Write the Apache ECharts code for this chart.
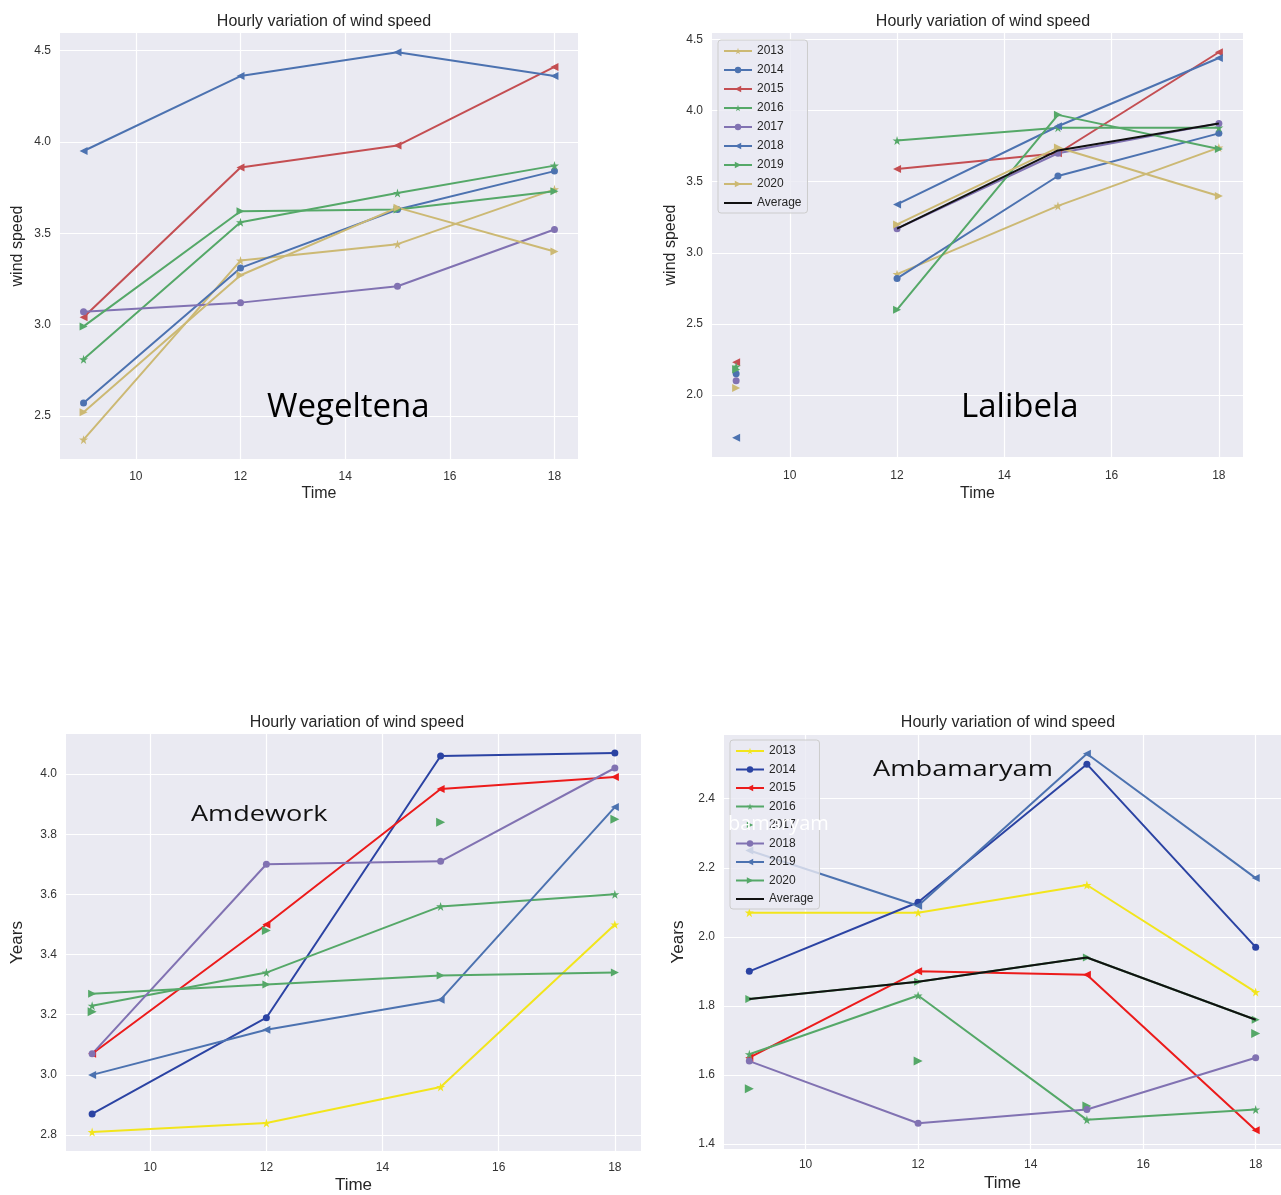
<!DOCTYPE html>
<html>
<head>
<meta charset="utf-8">
<script src="https://cdn.jsdelivr.net/npm/echarts@6/dist/echarts.min.js"></script>
<style>
  html, body { margin: 0; padding: 0; background: #fff; }
  #main { width: 1281px; height: 1195px; }
</style>
</head>
<body>
<div id="main"></div>
<script>
// hours of the day on the x axis
var hours = [9, 12, 15, 18]
var years = ['2013', '2014', '2015', '2016', '2017', '2018', '2019', '2020']

// Wegeltena (top left)
var weg2013 = [2.37, 3.35, 3.44, 3.74]
var weg2014 = [2.57, 3.31, 3.63, 3.84]
var weg2015 = [3.04, 3.86, 3.98, 4.41]
var weg2016 = [2.81, 3.56, 3.72, 3.87]
var weg2017 = [3.07, 3.12, 3.21, 3.52]
var weg2018 = [3.95, 4.36, 4.49, 4.36]
var weg2019 = [2.99, 3.62, 3.63, 3.73]
var weg2020 = [2.52, 3.27, 3.64, 3.40]

// Lalibela (top right) - 9h values are not joined to the rest
var lal2013 = [null, 2.85, 3.33, 3.74]
var lal2014 = [2.15, 2.82, 3.54, 3.84]
var lal2015 = [2.23, 3.59, 3.70, 4.41]
var lal2016 = [2.20, 3.79, 3.88, 3.88]
var lal2017 = [2.10, 3.17, 3.70, 3.91]
var lal2018 = [1.70, 3.34, 3.89, 4.37]
var lal2019 = [2.18, 2.60, 3.97, 3.73]
var lal2020 = [2.05, 3.20, 3.74, 3.40]
var lalAvg = [null, 3.17, 3.72, 3.91]

// Amdework (bottom left)
var amd2013 = [2.81, 2.84, 2.96, 3.50]
var amd2014 = [2.87, 3.19, 4.06, 4.07]
var amd2015 = [3.07, 3.50, 3.95, 3.99]
var amd2016 = [3.23, 3.34, 3.56, 3.60]
var amd2017 = [3.21, 3.48, 3.84, 3.85]
var amd2018 = [3.07, 3.70, 3.71, 4.02]
var amd2019 = [3.00, 3.15, 3.25, 3.89]
var amd2020 = [3.27, 3.30, 3.33, 3.34]

// Ambamaryam (bottom right)
var amb2013 = [2.07, 2.07, 2.15, 1.84]
var amb2014 = [1.90, 2.10, 2.50, 1.97]
var amb2015 = [1.65, 1.90, 1.89, 1.44]
var amb2016 = [1.66, 1.83, 1.47, 1.50]
var amb2017 = [1.56, 1.64, 1.51, 1.72]
var amb2018 = [1.64, 1.46, 1.50, 1.65]
var amb2019 = [2.25, 2.09, 2.53, 2.17]
var amb2020 = [1.82, 1.87, 1.94, 1.76]
var ambAvg = [1.82, 1.87, 1.94, 1.76]

var STAR = 'path://M50,0L61,35L98,35L68,57L79,91L50,70L21,91L32,57L2,35L39,35Z'
var LEFT = 'path://M0,5L10,0L10,10Z'
var RIGHT = 'path://M10,5L0,0L0,10Z'

// seaborn-ish colours
var tan = '#CCB974', blue = '#4C72B0', red = '#C44E52', green = '#55A868', purple = '#8172B2'
var yellow = '#F2E51C', navy = '#2B43A3', pureRed = '#EC1B1B'

// marker + colour per year, two palettes (top row, bottom row)
var topStyle = [
  [STAR, tan], ['circle', blue], [LEFT, red], [STAR, green],
  ['circle', purple], [LEFT, blue], [RIGHT, green], [RIGHT, tan]
]
var botStyle = [
  [STAR, yellow], ['circle', navy], [LEFT, pureRed], [STAR, green],
  [RIGHT, green], ['circle', purple], [LEFT, blue], [RIGHT, green]
]

function toData(vals, breakAfterFirst) {
  var out = []
  for (var i = 0; i < hours.length; i++) {
    out.push([hours[i], vals[i] == null ? '-' : vals[i]])
    if (breakAfterFirst && i === 0) out.push([10.5, '-'])
  }
  return out
}

function mk(prefix, label, vals, idx, style, opts) {
  opts = opts || {}
  var sym = style ? style[0] : 'none'
  var col = style ? style[1] : '#111'
  var size = sym === 'circle' ? 7 : (sym === STAR ? 9 : 8)
  return {
    name: prefix + '|' + label,
    type: 'line',
    xAxisIndex: idx,
    yAxisIndex: idx,
    data: toData(vals, opts.gap),
    symbol: sym,
    symbolSize: opts.markerOnly ? 9 : size,
    showSymbol: sym !== 'none',
    color: col,
    itemStyle: { color: col },
    lineStyle: { color: col, width: opts.markerOnly ? 0 : 2, opacity: opts.markerOnly ? 0 : 1 },
    emphasis: { disabled: true },
    animation: false,
    z: opts.z || 2
  }
}

var series = []
var wegVals = [weg2013, weg2014, weg2015, weg2016, weg2017, weg2018, weg2019, weg2020]
var lalVals = [lal2013, lal2014, lal2015, lal2016, lal2017, lal2018, lal2019, lal2020]
var amdVals = [amd2013, amd2014, amd2015, amd2016, amd2017, amd2018, amd2019, amd2020]
var ambVals = [amb2013, amb2014, amb2015, amb2016, amb2017, amb2018, amb2019, amb2020]

years.forEach(function (y, i) {
  series.push(mk('W', y, wegVals[i], 0, topStyle[i]))
})
years.forEach(function (y, i) {
  series.push(mk('L', y, lalVals[i], 1, topStyle[i], { gap: true }))
})
series.push(mk('L', 'Average', lalAvg, 1, null, { z: 3 }))
years.forEach(function (y, i) {
  series.push(mk('D', y, amdVals[i], 2, botStyle[i], { markerOnly: y === '2017' }))
})
years.forEach(function (y, i) {
  series.push(mk('B', y, ambVals[i], 3, botStyle[i], { markerOnly: y === '2017' }))
})
series.push(mk('B', 'Average', ambAvg, 3, null, { z: 3 }))

// matplotlib style 5% padding around the data
function padded(list) {
  var all = []
  list.forEach(function (a) { a.forEach(function (v) { if (v != null) all.push(v) }) })
  var lo = Math.min.apply(null, all), hi = Math.max.apply(null, all)
  var p = (hi - lo) * 0.05
  return [lo - p, hi + p]
}
var wegR = padded(wegVals)
var lalR = padded(lalVals.concat([lalAvg]))
var amdR = padded(amdVals)
var ambR = padded(ambVals.concat([ambAvg]))

var grids = [
  { left: 60, top: 33, width: 518, height: 426 },
  { left: 712, top: 33, width: 531, height: 424 },
  { left: 66, top: 734, width: 575, height: 419 },
  { left: 724, top: 735, width: 561, height: 414 }
]
grids.forEach(function (g) {
  g.show = true
  g.backgroundColor = '#EAEAF2'
  g.borderWidth = 0
  g.containLabel = false
})

var split = { show: true, showMinLine: false, showMaxLine: false, lineStyle: { color: '#ffffff', width: 1.2 } }
var tickFont = { color: '#333', fontSize: 12, fontFamily: 'Liberation Sans' }

function xAxis(idx, nameGap, nameSize, margin) {
  return {
    type: 'value', gridIndex: idx, min: 8.55, max: 18.45,
    name: 'Time', nameLocation: 'middle', nameGap: nameGap,
    nameTextStyle: { color: '#262626', fontSize: nameSize, fontFamily: 'Liberation Sans' },
    axisLine: { show: false }, axisTick: { show: false },
    axisLabel: Object.assign({ margin: margin || 11, showMinLabel: false, showMaxLabel: false }, tickFont),
    splitLine: split
  }
}
function yAxis(idx, range, name, nameGap, nameSize, splitNumber) {
  return {
    type: 'value', gridIndex: idx, min: range[0], max: range[1], splitNumber: splitNumber || 5,
    name: name, nameLocation: 'middle', nameGap: nameGap,
    nameTextStyle: { color: '#262626', fontSize: nameSize, fontFamily: 'Liberation Sans' },
    axisLine: { show: false }, axisTick: { show: false },
    axisLabel: Object.assign({
      margin: 9, showMinLabel: false, showMaxLabel: false,
      formatter: function (v) { return v.toFixed(1) }
    }, tickFont),
    splitLine: split
  }
}

function titleAt(cx, top) {
  return {
    text: 'Hourly variation of wind speed', left: cx, top: top, textAlign: 'center',
    textStyle: { color: '#262626', fontSize: 16, fontWeight: 'normal', fontFamily: 'Liberation Sans' }
  }
}

function legendFor(prefix, left, top, gap) {
  var names = years.map(function (y) { return prefix + '|' + y })
  // the average entry is drawn as a plain line, no marker
  names.push({ name: prefix + '|Average', itemStyle: { color: 'rgba(0,0,0,0)', borderWidth: 0 } })
  return {
    data: names, orient: 'vertical', left: left, top: top,
    itemWidth: 28, itemHeight: 8, itemGap: gap,
    padding: [5, 6, 4, 5],
    backgroundColor: 'rgba(234,234,242,0.8)', borderColor: '#cccccc', borderWidth: 1, borderRadius: 3,
    textStyle: { color: '#262626', fontSize: 12, fontFamily: 'Liberation Sans' },
    formatter: function (n) { return n.split('|')[1] },
    selectedMode: false
  }
}

function label(text, x, y, size, color, sx) {
  return {
    type: 'text', x: x, y: y, z: 100, scaleX: sx || 1,
    style: { text: text, fill: color, font: size + 'px "Open Sans"', textAlign: 'left', textVerticalAlign: 'middle' }
  }
}

var myChart = echarts.init(document.getElementById('main'))
var option = {
  backgroundColor: '#ffffff',
  animation: false,
  title: [titleAt(319, 9), titleAt(978, 9), titleAt(352, 710), titleAt(1003, 710)],
  legend: [legendFor('L', 718, 40, 7), legendFor('B', 730, 740, 6.5)],
  grid: grids,
  xAxis: [xAxis(0, 27, 16, 12), xAxis(1, 29, 16, 13), xAxis(2, 26, 17, 11), xAxis(3, 26, 17, 10)],
  yAxis: [
    yAxis(0, wegR, 'wind speed', 34, 16),
    yAxis(1, lalR, 'wind speed', 33, 16),
    yAxis(2, amdR, 'Years', 40, 17, 7),
    yAxis(3, ambR, 'Years', 37, 17)
  ],
  graphic: [
    label('Wegeltena', 267, 408, 33, '#000'),
    label('Lalibela', 961, 408, 33, '#000'),
    label('Amdework', 191, 815, 22, '#111', 1.23),
    label('Ambamaryam', 873, 770, 22, '#111', 1.24),
    label('bamaryam', 728, 824, 20, '#ffffff')
  ],
  series: series
}
myChart.setOption(option)
</script>
</body>
</html>
